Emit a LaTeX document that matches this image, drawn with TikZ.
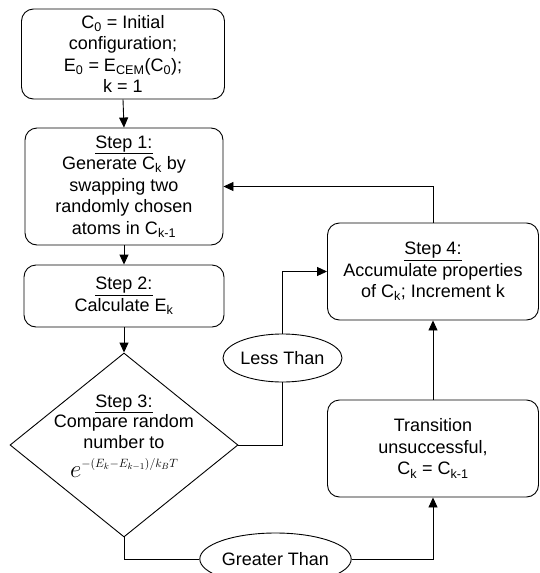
\documentclass[tikz,border=0pt]{standalone}
\usepackage{fontspec}
\setmainfont{Liberation Sans}
\usetikzlibrary{arrows.meta,shapes.geometric}
\tikzset{
  box/.style={draw, line width=0.9pt, rounded corners=12pt, fill=white, align=center,
              font=\fontsize{18}{21.5}\selectfont, inner sep=0pt},
  oval/.style={draw, line width=0.9pt, ellipse, fill=white, inner sep=0pt,
               font=\fontsize{18}{21.5}\selectfont},
  decision/.style={draw, line width=0.9pt, diamond, inner sep=0pt},
  conn/.style={line width=0.9pt},
  arr/.style={conn, -{Triangle[length=10pt,width=9pt]}},
  txt/.style={align=center, font=\fontsize{18}{20.5}\selectfont, inner sep=0pt}
}
\begin{document}
\begin{tikzpicture}[x=1pt,y=-1pt]
\useasboundingbox (0,0) rectangle (540,573);
% boxes
\node[box, minimum width=203pt, minimum height=90pt] (b0) at (123,54)
  {C\textsubscript{0} = Initial\\configuration;\\E\textsubscript{0} = E\textsubscript{CEM}(C\textsubscript{0});\\k = 1};
\node[box, minimum width=198pt, minimum height=117pt] (b1) at (124,186.5)
  {\underline{Step 1:}\\Generate C\textsubscript{k} by\\swapping two\\randomly chosen\\atoms in C\textsubscript{k-1}};
\node[box, minimum width=200pt, minimum height=62pt] (b2) at (124,296)
  {\underline{Step 2:}\\Calculate E\textsubscript{k}};
\node[box, minimum width=211pt, minimum height=97pt] (b4) at (433,271.5)
  {\underline{Step 4:}\\Accumulate properties\\of C\textsubscript{k}; Increment k};
\node[box, minimum width=211pt, minimum height=97pt] (bt) at (433,448.5)
  {Transition\\unsuccessful,\\C\textsubscript{k} = C\textsubscript{k-1}};
% decision
\node[decision, minimum width=228pt, minimum height=184pt] (d) at (124,445) {};
\node[txt, anchor=base] (dt) at (124,448) {\underline{Step 3:}\\Compare random\\number to};
\node[inner sep=0pt, anchor=base] (df) at (124,477)
  {{\fontsize{30}{30}\selectfont$e$}\raisebox{10pt}{\fontsize{18.5}{20}\selectfont$\scriptstyle -(E_k-E_{k-1})/k_BT$}};
% ovals
\node[oval, minimum width=119pt, minimum height=48pt] (lt) at (282.5,358) {Less Than};
\node[oval, minimum width=131pt, minimum height=52pt] (gt) at (275.5,559) {Greater Than};
% connectors
\draw[arr] (b0.south) -- (b1.north);
\draw[arr] (b1.south) -- (b2.north);
\draw[arr] (b2.south) -- (d.north);
\draw[conn] (d.east) -| (lt.south);
\draw[arr] (lt.north) |- (b4.west);
\draw[conn] (d.south) |- (gt.west);
\draw[arr] (gt.east) -| (bt.south);
\draw[arr] (bt.north) -- (b4.south);
\draw[arr] (b4.north) |- (b1.east);
\end{tikzpicture}
\end{document}
